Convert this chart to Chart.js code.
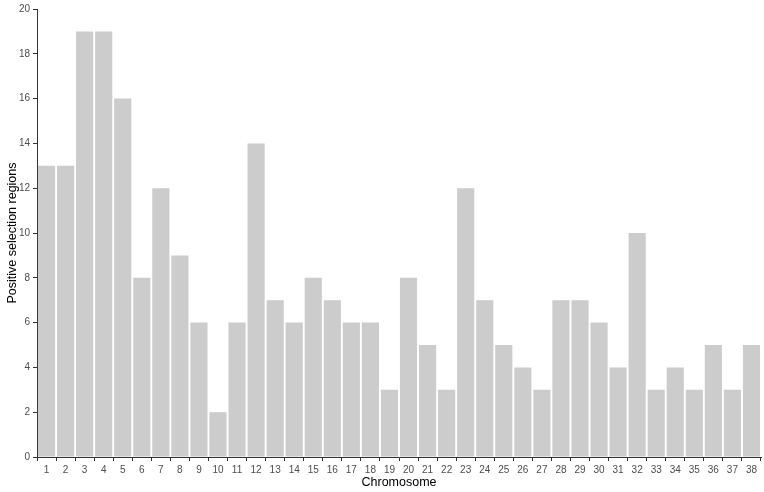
<!DOCTYPE html>
<html>
<head>
<meta charset="utf-8">
<script src="https://cdn.jsdelivr.net/npm/chart.js@4/dist/chart.umd.min.js"></script>
<style>
  html, body { margin: 0; padding: 0; background: #fff; }
  #wrap { width: 764px; height: 492px; }
</style>
</head>
<body>
<div id="wrap"><canvas id="chart" width="764" height="492"></canvas></div>
<script>
// chromosomes 1..38
const chromosomes = ['1','2','3','4','5','6','7','8','9','10','11','12','13','14','15','16','17','18','19',
    '20','21','22','23','24','25','26','27','28','29','30','31','32','33','34','35','36','37','38'];
const regions = [13, 13, 19, 19, 16, 8, 12, 9, 6, 2, 6, 14, 7, 6, 8, 7, 6, 6, 3,
    8, 5, 3, 12, 7, 5, 4, 3, 7, 7, 6, 4, 10, 3, 4, 3, 5, 3, 5];
const yTicks = [0, 2, 4, 6, 8, 10, 12, 14, 16, 18, 20];

const tickFont = { family: 'Liberation Sans, Arial, sans-serif', size: 10 };
const titleFont = { family: 'Liberation Sans, Arial, sans-serif', size: 12.5 };

let chart = new Chart(document.getElementById('chart'), {
    type: 'bar',
    data: {
        labels: chromosomes,
        datasets: [{
            label: 'Positive selection regions',
            data: regions,
            backgroundColor: '#cccccc',
            borderWidth: 0,
            barPercentage: 0.9,
            categoryPercentage: 1.0
        }]
    },
    options: {
        responsive: false,
        animation: false,
        layout: { padding: { top: 9, right: 3, left: 0, bottom: 0 } },
        plugins: {
            legend: { display: false },
            tooltip: { enabled: false }
        },
        scales: {
            x: {
                offset: true,
                grid: { display: true, drawOnChartArea: false, tickLength: 4, color: '#333333' },
                border: { display: true, color: '#333333', width: 1 },
                ticks: { color: '#4d4d4d', font: tickFont, padding: 3, maxRotation: 0, autoSkip: false },
                title: { display: true, text: 'Chromosome', color: '#000', font: titleFont, padding: { top: 0, bottom: 2 } },
                afterFit: s => { s.height = 35; }
            },
            y: {
                min: 0,
                max: 20,
                afterBuildTicks: s => { s.ticks = yTicks.map(v => ({ value: v })); },
                grid: { display: true, drawOnChartArea: false, tickLength: 4, color: '#333333' },
                border: { display: true, color: '#333333', width: 1 },
                ticks: { color: '#4d4d4d', font: tickFont, padding: 3 },
                title: { display: true, text: 'Positive selection regions', color: '#000', font: titleFont, padding: { top: 5, bottom: 4 } },
                afterFit: s => { s.width = 37; }
            }
        }
    }
});
</script>
</body>
</html>
